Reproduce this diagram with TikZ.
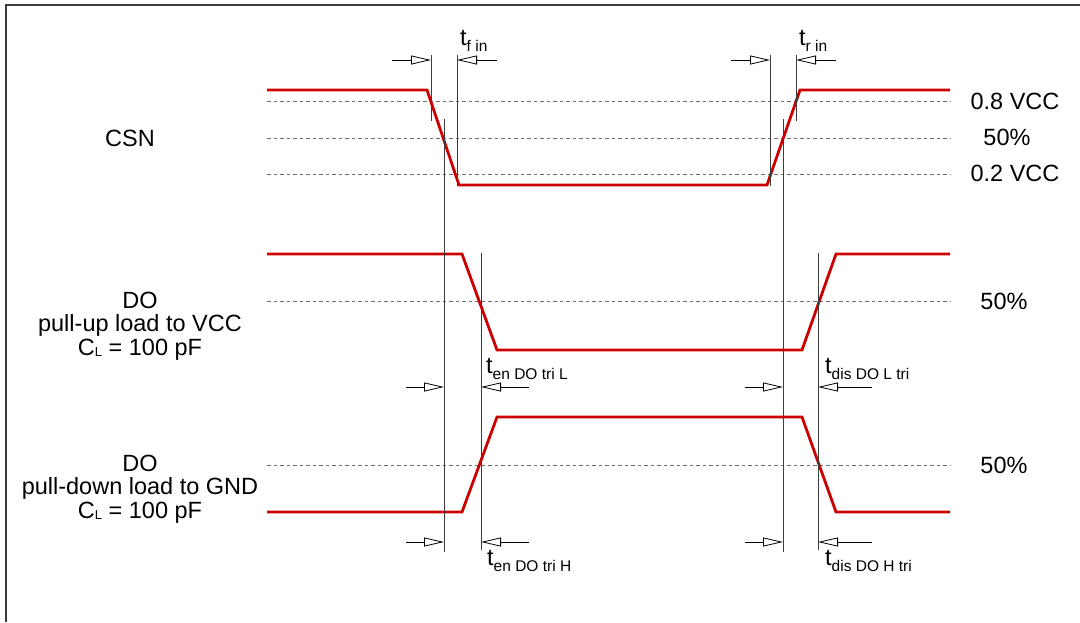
\documentclass[tikz,border=0pt]{standalone}
\usepackage{fontspec}
\setmainfont{Liberation Sans}
\usetikzlibrary{arrows.meta}
\definecolor{sigred}{HTML}{CC0000}
\definecolor{lvlgray}{HTML}{707070}
\definecolor{mkgray}{HTML}{3C3C3C}
\definecolor{framegray}{HTML}{3A3A3A}
\newcommand{\lowtext}[1]{\raisebox{-6pt}{\fontsize{15.5}{15.5}\selectfont #1}}
\newcommand{\capsub}[1]{\raisebox{-1pt}{\fontsize{13}{13}\selectfont #1}}

\begin{document}
\begin{tikzpicture}[
  x=1pt, y=-1pt,
  font=\fontsize{23.5}{23.5}\selectfont,
  sig/.style={draw=sigred, line width=2.8pt},
  level/.style={draw=lvlgray, line width=1pt, dash pattern=on 3.5pt off 3pt},
  marker/.style={draw=mkgray, line width=1pt},
  timearrow/.style={draw=black, line width=0.8pt, -{Triangle[open, length=20pt, width=9pt]}},
  lbl/.style={align=center, inner sep=0pt},
  tlbl/.style={anchor=base west, inner sep=0pt},
]
\useasboundingbox (0,0) rectangle (1080,622);
\def\xa{267}
\def\xb{950}
% --- frame ---
\draw[draw=framegray, line width=2pt] (6,622) -- (6,5) -- (1080,5);
% --- threshold levels ---
\foreach \y in {101,138,174,301,465} {
  \draw[level] (\xa,\y) -- (\xb,\y);
}
% --- CSN ---
\draw[sig] (\xa,90) -- (427,90) -- (459,185) -- (767,185) -- (800,90) -- (\xb,90);
% --- DO, pull-up load ---
\draw[sig] (\xa,254) -- (462,254) -- (497,350) -- (802,350) -- (836,254) -- (\xb,254);
% --- DO, pull-down load ---
\draw[sig] (\xa,512) -- (462,512) -- (497,417) -- (802,417) -- (836,512) -- (\xb,512);
% --- timing markers ---
\foreach \n/\x/\ya/\yb in {fa/431/55/121, fb/457/55/186, fc/444/119/552,
                          ra/770/55/186, rb/796/55/121, rc/783/119/552,
                          ea/481/253/550, da/818/253/550} {
  \coordinate (\n) at (\x,\ya);
  \coordinate (\n-end) at (\x,\yb);
  \draw[marker] (\n) -- (\n-end);
}
% --- arrows onto the markers ---
\foreach \m/\x/\y [count=\i] in {fa/392/60, fb/497/60, ra/731/60, rb/836/60,
                                 fc/406/387, ea/529/387, rc/745/387, da/872/387,
                                 fc/406/542, ea/529/542, rc/745/542, da/872/542} {
  \coordinate (tail\i) at (\x,\y);
  \draw[timearrow] (tail\i) -- (tail\i -| \m);
}
% --- timing labels ---
\node[tlbl] (tfin) at (460,45) {t\lowtext{f in}};
\node[tlbl] (trin) at (799,45) {t\lowtext{r in}};
\node[tlbl] (tenL) at (486,373) {t\lowtext{en DO tri L}};
\node[tlbl] (tdisL) at (825,373) {t\lowtext{dis DO L tri}};
\node[tlbl] (tenH) at (487,565) {t\lowtext{en DO tri H}};
\node[tlbl] (tdisH) at (825,565) {t\lowtext{dis DO H tri}};
% --- signal names ---
\node[lbl] (csn) at (130,138) {CSN};
\node[lbl] (doup) at (140,326) {DO\\pull-up load to VCC\\C\capsub{L} = 100 pF};
\node[lbl] (dodown) at (140,489) {DO\\pull-down load to GND\\C\capsub{L} = 100 pF};
% --- level names ---
\node[lbl] (hi) at (1015,101) {0.8 VCC};
\node[lbl] (mid) at (1007,137) {50\%};
\node[lbl] (lo) at (1015,173) {0.2 VCC};
\node[lbl] (midup) at (1004,301) {50\%};
\node[lbl] (middown) at (1004,465) {50\%};
\end{tikzpicture}
\end{document}
